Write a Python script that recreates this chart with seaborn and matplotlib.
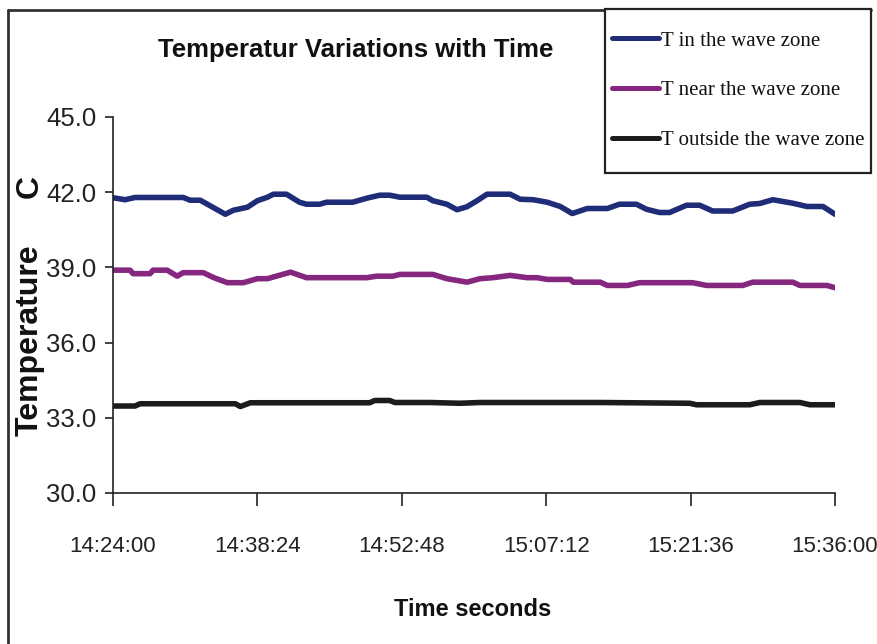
import matplotlib
matplotlib.use("Agg")
import matplotlib.pyplot as plt
import matplotlib.dates as mdates
from matplotlib.lines import Line2D
from matplotlib.patches import Rectangle
import pandas as pd
import seaborn as sns

# minutes after 14:24:00 and temperature (C)
in_min = [0, 1.2, 2.2, 7.0, 7.7, 8.7, 11.2, 12.0, 13.4, 14.4, 15.4, 16.0, 17.3, 18.6,
          19.3, 20.6, 21.3, 23.9, 25.3, 26.6, 27.6, 28.6, 31.3, 31.9, 33.3, 34.3, 35.3,
          36.3, 37.3, 39.6, 40.6, 41.9, 43.3, 44.6, 45.8, 47.3, 49.3, 50.5, 52.2, 53.2,
          54.5, 55.5, 57.2, 58.5, 59.8, 61.8, 63.5, 64.5, 65.8, 67.8, 69.2, 70.8, 72.0]
in_temp = [41.78, 41.70, 41.79, 41.79, 41.68, 41.68, 41.12, 41.28, 41.40, 41.66, 41.80,
           41.92, 41.92, 41.60, 41.52, 41.52, 41.60, 41.60, 41.76, 41.88, 41.88, 41.80,
           41.80, 41.66, 41.52, 41.30, 41.42, 41.66, 41.92, 41.92, 41.72, 41.70, 41.60,
           41.43, 41.15, 41.35, 41.35, 41.52, 41.52, 41.32, 41.19, 41.19, 41.48, 41.48,
           41.25, 41.25, 41.52, 41.55, 41.70, 41.56, 41.43, 41.43, 41.12]

near_min = [0, 1.7, 2.0, 3.7, 4.0, 5.4, 6.4, 7.0, 9.0, 10.0, 11.4, 13.0, 14.4, 15.4,
            17.7, 19.3, 25.3, 26.3, 27.9, 28.6, 31.9, 33.3, 35.3, 36.6, 37.9, 39.6,
            41.3, 42.3, 43.3, 45.6, 45.9, 48.6, 49.3, 51.3, 52.5, 57.8, 59.2, 62.8,
            63.8, 67.8, 68.5, 71.2, 72.0]
near_temp = [38.89, 38.89, 38.75, 38.75, 38.89, 38.89, 38.65, 38.79, 38.79, 38.60,
             38.39, 38.39, 38.55, 38.55, 38.81, 38.59, 38.59, 38.65, 38.65, 38.72,
             38.72, 38.55, 38.41, 38.55, 38.59, 38.68, 38.59, 38.59, 38.52, 38.52,
             38.41, 38.41, 38.28, 38.28, 38.39, 38.39, 38.28, 38.28, 38.41, 38.41,
             38.28, 38.28, 38.19]

out_min = [0, 2.2, 2.7, 12.2, 12.7, 13.7, 25.6, 26.1, 27.6, 28.1, 31.6, 34.6, 36.6,
           48.6, 57.5, 58.2, 63.5, 64.5, 68.5, 69.5, 72.0]
out_temp = [33.47, 33.47, 33.56, 33.56, 33.45, 33.60, 33.60, 33.69, 33.69, 33.61,
            33.61, 33.58, 33.61, 33.61, 33.58, 33.52, 33.52, 33.61, 33.61, 33.52, 33.52]

labels = ["T in the wave zone", "T near the wave zone", "T outside the wave zone"]
colors = ["#1f2d78", "#85267f", "#1c1c1c"]
tick_labels = ["14:24:00", "14:38:24", "14:52:48", "15:07:12", "15:21:36", "15:36:00"]
y_ticks = [30, 33, 36, 39, 42, 45]

base = pd.Timestamp("2000-01-01 14:24:00")
frames = []
for lab, mins, temps in zip(labels, [in_min, near_min, out_min], [in_temp, near_temp, out_temp]):
    frames.append(pd.DataFrame({"time": base + pd.to_timedelta(mins, unit="min"),
                                "temp": temps, "series": lab}))
df = pd.concat(frames, ignore_index=True)

sns.set_style("white")
plt.rcParams["font.family"] = ["Liberation Sans", "DejaVu Sans"]

fig = plt.figure(figsize=(8.77, 6.44), dpi=100)
W, H = 877, 644
ax = fig.add_axes([113 / W, 1 - 493 / H, (835 - 113) / W, (493 - 117) / H])

sns.lineplot(data=df, x="time", y="temp", hue="series", palette=dict(zip(labels, colors)),
             linewidth=4, estimator=None, sort=True, legend=False, ax=ax)

tick_pos = [pd.Timestamp("2000-01-01 " + t) for t in tick_labels]
ax.set_xlim(tick_pos[0], tick_pos[-1])
ax.set_xticks(tick_pos)
ax.xaxis.set_major_formatter(mdates.DateFormatter("%H:%M:%S"))
ax.set_ylim(30, 45)
ax.set_yticks(y_ticks)
ax.set_yticklabels([f"{v:.1f}" for v in y_ticks])
ax.set_xlabel("")
ax.set_ylabel("")

for s in ["top", "right"]:
    ax.spines[s].set_visible(False)
for s in ["left", "bottom"]:
    ax.spines[s].set_color("#222222")
    ax.spines[s].set_linewidth(1.2)
ax.tick_params(axis="y", direction="out", length=6, width=1.2, color="#222222",
               pad=6, labelsize=18.5, left=True)
ax.tick_params(axis="x", direction="out", length=9, width=1.2, color="#222222",
               pad=22, labelsize=16, bottom=True)
for lbl in ax.get_xticklabels() + ax.get_yticklabels():
    lbl.set_color("#222222")

fig.text(356 / W, 1 - 50 / H, "Temperatur Variations with Time", ha="center", va="center",
         fontsize=18.5, fontweight="bold", color="#111111")
fig.text(473 / W, 1 - 610 / H, "Time seconds", ha="center", va="center",
         fontsize=17, fontweight="bold", color="#111111")
fig.text(30 / W, 1 - 340 / H, "Temperature", ha="center", va="center", rotation=90,
         fontsize=23, fontweight="bold", color="#111111")
fig.text(30 / W, 1 - 187 / H, "C", ha="center", va="center", rotation=90,
         fontsize=23, fontweight="bold", color="#111111")

# outer frame (only left and top edges visible in the crop)
fig.add_artist(Line2D([8 / W, 8 / W], [0, 1 - 10 / H], transform=fig.transFigure,
                      color="#333333", linewidth=2))
fig.add_artist(Line2D([8 / W, 871 / W], [1 - 10 / H, 1 - 10 / H], transform=fig.transFigure,
                      color="#333333", linewidth=2))

# legend box
fig.add_artist(Rectangle((605 / W, 1 - 173 / H), (871 - 605) / W, (173 - 9) / H,
                         transform=fig.transFigure, facecolor="white",
                         edgecolor="#222222", linewidth=1.6, zorder=5))
handles = [Line2D([], [], color=c, linewidth=3.6) for c in colors]
leg = fig.legend(handles, labels, loc="upper left", bbox_to_anchor=(612 / W, 1 - 31 / H),
                 frameon=False, prop={"family": ["Liberation Serif", "DejaVu Serif"], "size": 15},
                 handlelength=2.25, handletextpad=0.1, labelspacing=1.45, borderpad=0,
                 borderaxespad=0)
leg.set_zorder(6)
for t in leg.get_texts():
    t.set_color("#111111")

fig.savefig("out.png", dpi=100, facecolor="white")
